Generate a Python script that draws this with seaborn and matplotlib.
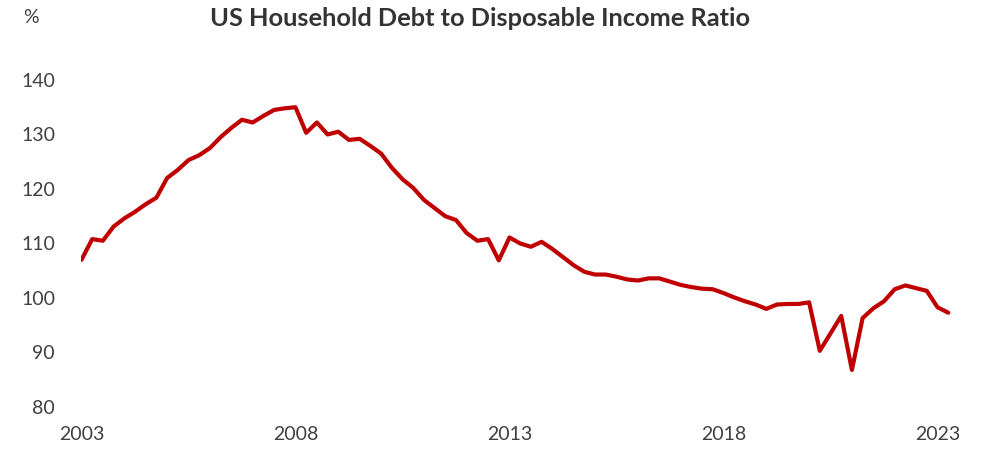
import matplotlib
matplotlib.use("Agg")
import matplotlib.pyplot as plt
import seaborn as sns
import pandas as pd

# Quarterly household debt as % of disposable income, 2003Q1 - 2023Q2
first_quarter = "2003Q1"
last_quarter = "2023Q2"
debt_to_income = [
    107.0, 110.8, 110.5, 113.1, 114.6, 115.8, 117.2, 118.4,   # 2003-2004
    122.0, 123.5, 125.3, 126.2, 127.5, 129.5, 131.2, 132.7,   # 2005-2006
    132.2, 133.4, 134.5, 134.8, 135.0, 130.3, 132.2, 130.0,   # 2007-2008
    130.5, 129.0, 129.2, 127.9, 126.5, 123.9, 121.8, 120.2,   # 2009-2010
    118.0, 116.5, 115.0, 114.3, 111.9, 110.5, 110.8, 106.9,   # 2011-2012
    111.1, 110.0, 109.4, 110.3, 109.0, 107.5, 106.0, 104.8,   # 2013-2014
    104.3, 104.3, 103.9, 103.4, 103.2, 103.6, 103.6, 103.0,   # 2015-2016
    102.4, 102.0, 101.7, 101.6, 100.9, 100.1, 99.4, 98.8,     # 2017-2018
    98.0, 98.8, 98.9, 98.9, 99.2, 90.3, 93.5, 96.7,           # 2019-2020
    86.8, 96.3, 98.1, 99.4, 101.6, 102.3, 101.8, 101.3,       # 2021-2022
    98.3, 97.3,                                               # 2023
]
x_ticks = [2003, 2008, 2013, 2018, 2023]
y_ticks = [80, 90, 100, 110, 120, 130, 140]
title = "US Household Debt to Disposable Income Ratio"
unit_label = "%"

periods = pd.period_range(first_quarter, last_quarter, freq="Q")
df = pd.DataFrame({
    "year": periods.year + (periods.quarter - 1) / 4.0,
    "ratio": debt_to_income,
})

sns.set_theme(style="white")
plt.rcParams["font.family"] = ["Lato", "DejaVu Sans"]
text_color = "#404040"

fig = plt.figure(figsize=(9.84, 4.5), dpi=100)
ax = fig.add_axes([0.0828, 0.0956, 0.8917, 0.7267])

sns.lineplot(data=df, x="year", y="ratio", ax=ax, color="#C00000",
             linewidth=3.0, solid_joinstyle="round", solid_capstyle="round")

ax.set_xlim(2003, 2023.5)
ax.set_ylim(80, 140)
ax.set_xticks(x_ticks)
ax.set_xticklabels([str(t) for t in x_ticks])
ax.set_yticks(y_ticks)
ax.set_yticklabels([str(t) for t in y_ticks])
ax.tick_params(axis="both", length=0, labelsize=14, colors=text_color)
ax.tick_params(axis="y", pad=19)
ax.tick_params(axis="x", pad=14)
ax.set_xlabel("")
ax.set_ylabel("")
for s in ax.spines.values():
    s.set_visible(False)
ax.grid(False)

fig.text(0.488, 0.958, title, ha="center", va="center", fontsize=18.3,
         fontweight="bold", color="#333333")
fig.text(0.031, 0.962, unit_label, ha="center", va="center", fontsize=14,
         color=text_color)

fig.savefig("out.png", dpi=100, facecolor="white")
